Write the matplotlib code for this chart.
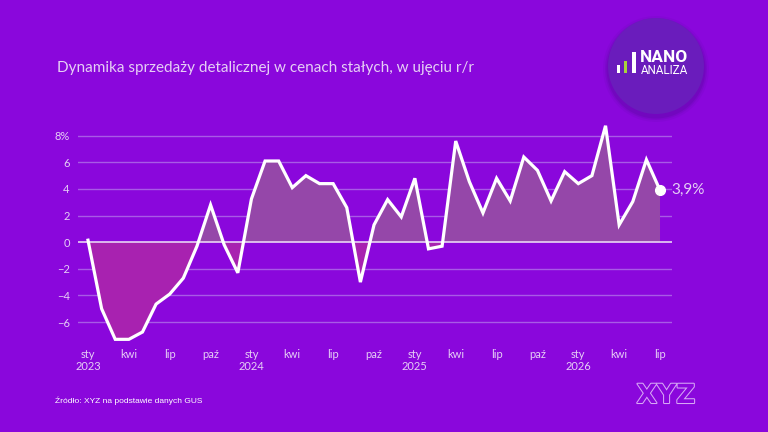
import matplotlib
matplotlib.use("Agg")
import matplotlib.pyplot as plt
import matplotlib.patheffects as pe
from matplotlib.patches import Circle, Rectangle
import numpy as np

# Retail sales dynamics, constant prices, y/y (%), Jan 2023 - Jul 2026
values = [
    0.15, -5.0, -7.3, -7.3, -6.75, -4.65, -3.9, -2.7, -0.3, 2.8, -0.2, -2.3,
    3.25, 6.1, 6.1, 4.1, 5.0, 4.4, 4.4, 2.6, -3.0, 1.3, 3.2, 1.9,
    4.8, -0.5, -0.3, 7.6, 4.55, 2.2, 4.8, 3.1, 6.4, 5.4, 3.1, 5.3,
    4.4, 5.0, 8.75, 1.3, 3.05, 6.2, 3.9,
]
tick_pos = [0, 3, 6, 9, 12, 15, 18, 21, 24, 27, 30, 33, 36, 39, 42]
tick_labels = ["sty\n2023", "kwi", "lip", "paź", "sty\n2024", "kwi", "lip", "paź",
               "sty\n2025", "kwi", "lip", "paź", "sty\n2026", "kwi", "lip"]
y_ticks = [-6, -4, -2, 0, 2, 4, 6, 8]
y_labels = ["−6", "−4", "−2", "0", "2", "4", "6", "8%"]
last_label = "3,9%"

BG = "#8a07dc"
POS_FILL = "#9547a9"
NEG_FILL = "#a822b0"
GRID = "#a85ae6"
TXT = "#e6cff5"

plt.rcParams["font.family"] = ["Lato", "DejaVu Sans"]

W, H = 768, 432
fig = plt.figure(figsize=(W / 100, H / 100), dpi=100, facecolor=BG)

x = np.arange(len(values))
y = np.array(values)

ax = fig.add_axes([78 / W, 1 - 342 / H, (672 - 78) / W, (342 - 130) / H])
ax.set_facecolor(BG)
ax.set_xlim(-0.734, 42.88)
ax.set_ylim(-7.5, 8.43)

for v in y_ticks:
    if v == 0:
        continue
    ax.axhline(v, color=GRID, lw=1, zorder=1)
ax.fill_between(x, y, 0, where=y >= 0, interpolate=True, color=POS_FILL, lw=0,
                zorder=2, clip_on=False)
ax.fill_between(x, y, 0, where=y <= 0, interpolate=True, color=NEG_FILL, lw=0,
                zorder=2, clip_on=False)
ax.axhline(0, color="#e8d4f4", lw=1.2, zorder=3)
ax.plot(x, y, color="white", lw=2.3, solid_joinstyle="miter", zorder=4, clip_on=False)
ax.plot(x[-1], y[-1], "o", color="white", ms=7, zorder=5, clip_on=False)
ax.annotate(last_label, (x[-1], y[-1]), xytext=(8, 0), textcoords="offset points",
            va="center", ha="left", fontsize=11, color=TXT)

for s in ax.spines.values():
    s.set_visible(False)
ax.set_xticks(tick_pos)
ax.set_xticklabels(tick_labels, fontsize=8, color=TXT, linespacing=1.15)
ax.set_yticks(y_ticks)
ax.set_yticklabels(y_labels, fontsize=8, color=TXT)
ax.tick_params(length=0, pad=6)
ax.tick_params(axis="x", pad=5)

fig.text(57 / W, 1 - 68 / H, "Dynamika sprzedaży detalicznej w cenach stałych, w ujęciu r/r",
         fontsize=11, color=TXT, va="center", ha="left")
fig.text(55 / W, 1 - 401 / H, "Źródło: XYZ na podstawie danych GUS",
         fontsize=6, color="white", va="center", ha="left", family="Liberation Sans")

# logo in the top-right circle
lax = fig.add_axes([0, 0, 1, 1])
lax.set_xlim(0, W)
lax.set_ylim(H, 0)
lax.axis("off")
for r, a in [(53, 0.08), (51, 0.12), (49.5, 0.18)]:
    lax.add_patch(Circle((656, 69), r, color="#4a0a8a", alpha=a, lw=0))
lax.add_patch(Circle((656, 66), 48, color="#6a1cbc", lw=0))
lax.add_patch(Rectangle((616.7, 65), 3.3, 7.5, color="white", lw=0))
lax.add_patch(Rectangle((624, 60.5), 3.3, 12, color="#a8d43c", lw=0))
lax.add_patch(Rectangle((632.3, 52.3), 3.5, 20.2, color="white", lw=0))
lax.text(639.5, 57.8, "NANO", fontsize=12.5, fontweight="bold", color="white",
         va="center", ha="left", family="Roboto")
lax.text(640.5, 70.5, "ANALIZA", fontsize=8.4, color="white", va="center", ha="left",
         family="Roboto")

# outlined XYZ mark bottom-right
t = lax.text(666, 396, "XYZ", fontsize=19, fontweight="bold", color=BG, va="center",
             ha="center", family="DejaVu Sans")
t.set_path_effects([pe.Stroke(linewidth=1.5, foreground="#d7a8f5"), pe.Normal()])

fig.savefig("out.png", dpi=100, facecolor=BG)
